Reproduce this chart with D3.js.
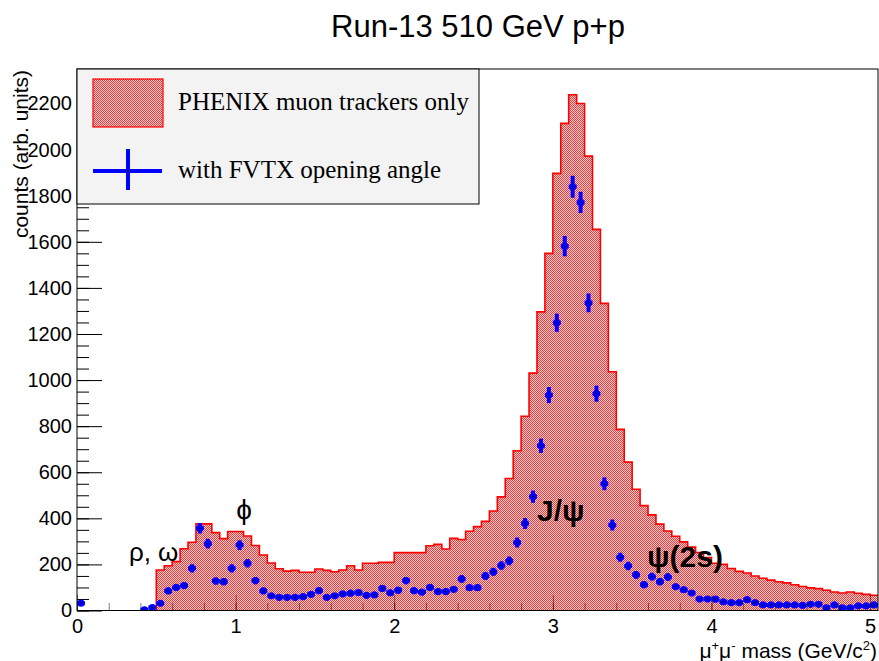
<!DOCTYPE html>
<html>
<head>
<meta charset="utf-8">
<script src="https://cdn.jsdelivr.net/npm/d3@7"></script>
<style>
  body { margin: 0; background: #fff; }
  text { fill: #000; }
</style>
</head>
<body>
<svg id="chart" width="879" height="661"></svg>
<script>
// Dimuon invariant mass, 0.05 GeV/c^2 bins starting at 0
const binWidth = 0.05;
const nBins = 101;

// PHENIX muon trackers only (filled histogram), counts per bin
const muonOnly = [
  0, 0, 0, 0, 0, 0, 0, 0, 0, 0,
  176, 194, 212, 268, 296, 376, 376, 338, 312, 343,
  343, 323, 282, 241, 206, 181, 171, 174, 166, 166,
  180, 174, 168, 176, 194, 176, 205, 205, 209, 209,
  251, 251, 251, 251, 281, 287, 267, 313, 308, 344,
  364, 387, 432, 493, 573, 693, 843, 1030, 1296, 1550,
  1897, 2114, 2238, 2200, 1972, 1654, 1333, 1036, 786, 644,
  526, 455, 415, 375, 345, 322, 298, 275, 252, 230,
  205, 200, 182, 170, 163, 150, 140, 132, 125, 120,
  112, 104, 98, 95, 88, 80, 76, 80, 75, 70, 66
];

// With FVTX opening angle cut (points with Poisson errors); null = empty bin
const withFvtx = [
  32, null, null, null, null, null, null, null, 3, 13,
  31, 85, 100, 108, 183, 357, 290, 128, 125, 183,
  284, 205, 130, 85, 64, 57, 57, 57, 60, 70,
  86, 57, 64, 72, 75, 78, 66, 68, 96, 77,
  88, 130, 86, 80, 100, 82, 82, 92, 137, 99,
  99, 150, 168, 195, 215, 295, 378, 494, 715, 935,
  1249, 1581, 1839, 1771, 1335, 941, 550, 371, 231, 193,
  155, 112, 147, 125, 145, 103, 90, 76, 50, 50,
  49, 38, 34, 34, 47, 34, 24, 24, 24, 24,
  24, 22, 27, 27, 12, 24, 12, 12, 20, 20, 24
];

const xTicks = [0, 1, 2, 3, 4, 5];
const yTicks = [0, 200, 400, 600, 800, 1000, 1200, 1400, 1600, 1800, 2000, 2200];

const titleText = "Run-13 510 GeV p+p";
const legendLabels = ["PHENIX muon trackers only", "with FVTX opening angle"];

const svg = d3.select("#chart");
const frame = { left: 77, right: 878, top: 69, bottom: 610.5 };
const sans = "'Liberation Sans', Arial, 'DejaVu Sans', sans-serif";
const serif = "'Liberation Serif', 'Times New Roman', serif";

const x = d3.scaleLinear().domain([0, nBins * binWidth]).range([frame.left, frame.right]);
const y = d3.scaleLinear().domain([0, 2350]).range([frame.bottom, frame.top]);

const bins = d3.range(nBins).map(i => ({
  lo: i * binWidth,
  hi: (i + 1) * binWidth,
  red: muonOnly[i],
  blue: withFvtx[i]
}));

// fine checkered red fill
const defs = svg.append("defs");
const pat = defs.append("pattern")
  .attr("id", "redDots").attr("patternUnits", "userSpaceOnUse")
  .attr("width", 2).attr("height", 2);
pat.append("rect").attr("x", 0).attr("y", 0).attr("width", 2).attr("height", 2).attr("fill", "#ffd0d0");
pat.append("rect").attr("x", 0).attr("y", 0).attr("width", 1).attr("height", 1)
  .attr("fill", "#ee3a3a").attr("shape-rendering", "crispEdges");
pat.append("rect").attr("x", 1).attr("y", 1).attr("width", 1).attr("height", 1)
  .attr("fill", "#ee3a3a").attr("shape-rendering", "crispEdges");

defs.append("clipPath").attr("id", "plotClip")
  .append("rect")
  .attr("x", frame.left).attr("y", frame.top)
  .attr("width", frame.right - frame.left).attr("height", frame.bottom - frame.top);

// ---- axes (drawn first, the fill lies over the ticks)
const yMinor = d3.range(0, 2351, 50);
const xMinor = d3.range(0, 5.05, 0.2);

function styleAxis(g) {
  g.selectAll(".domain").remove();
  g.selectAll(".tick line").attr("stroke", "#000").attr("stroke-width", 1);
  g.selectAll("text").attr("font-family", sans).attr("font-size", 20).attr("fill", "#000");
}

svg.append("g").attr("transform", `translate(${frame.left},0)`)
  .call(d3.axisLeft(y).tickValues(yMinor).tickSize(-12).tickFormat(""))
  .call(styleAxis);
svg.append("g").attr("transform", `translate(${frame.left},0)`)
  .call(d3.axisLeft(y).tickValues(yTicks).tickSize(-25).tickPadding(5).tickFormat(d3.format("d")))
  .call(styleAxis);

// ---- filled histogram
const plot = svg.append("g").attr("clip-path", "url(#plotClip)");
const filled = bins.filter(b => b.red > 0);
const stepPts = filled.map(b => [b.lo, b.red]);
stepPts.push([filled[filled.length - 1].hi, filled[filled.length - 1].red]);

plot.append("path")
  .datum(stepPts)
  .attr("fill", "url(#redDots)")
  .attr("d", d3.area().curve(d3.curveStepAfter)
    .x(d => x(d[0])).y0(y(0)).y1(d => y(d[1])));

plot.append("path")
  .datum([[filled[0].lo, 0], ...stepPts])
  .attr("fill", "none").attr("stroke", "#ff0000").attr("stroke-width", 1.6)
  .attr("d", d3.line().curve(d3.curveStepAfter).x(d => x(d[0])).y(d => y(d[1])));

// x ticks sit on top of the fill, drawn dotted
function styleXAxis(g) {
  styleAxis(g);
  g.selectAll(".tick line").attr("stroke-dasharray", "1,1");
}
svg.append("g").attr("transform", `translate(0,${frame.bottom})`)
  .call(d3.axisBottom(x).tickValues(xMinor).tickSize(-8).tickFormat(""))
  .call(styleXAxis);
svg.append("g").attr("transform", `translate(0,${frame.bottom})`)
  .call(d3.axisBottom(x).tickValues(xTicks).tickSize(-16).tickPadding(8).tickFormat(d3.format("d")))
  .call(styleXAxis);

// ---- points with error bars
const pts = plot.append("g").selectAll("g")
  .data(bins.filter(b => b.blue !== null))
  .join("g");
pts.append("line")
  .attr("x1", d => x(d.lo)).attr("x2", d => x(d.hi))
  .attr("y1", d => y(d.blue)).attr("y2", d => y(d.blue))
  .attr("stroke", "#0000ff").attr("stroke-width", 4);
pts.append("line")
  .attr("x1", d => x((d.lo + d.hi) / 2)).attr("x2", d => x((d.lo + d.hi) / 2))
  .attr("y1", d => y(d.blue - Math.sqrt(d.blue)) + 1).attr("y2", d => y(d.blue + Math.sqrt(d.blue)) - 1)
  .attr("stroke", "#0000ff").attr("stroke-width", 4);
pts.append("circle")
  .attr("cx", d => x((d.lo + d.hi) / 2)).attr("cy", d => y(d.blue))
  .attr("r", 3.6).attr("fill", "#0000ff");
pts.append("circle")
  .attr("cx", d => x((d.lo + d.hi) / 2)).attr("cy", d => y(d.blue))
  .attr("r", 0.8).attr("fill", "#000");

// ---- frame
svg.append("rect")
  .attr("x", frame.left).attr("y", frame.top)
  .attr("width", frame.right - frame.left).attr("height", frame.bottom - frame.top)
  .attr("fill", "none").attr("stroke", "#000").attr("stroke-width", 1);

// ---- peak labels
svg.append("text").attr("x", 129).attr("y", 561)
  .attr("font-family", sans).attr("font-size", 26)
  .text("ρ,")
  .append("tspan").attr("x", 158).text("ω");
svg.append("text").attr("x", 244).attr("y", 519).attr("text-anchor", "middle")
  .attr("font-family", sans).attr("font-size", 28).text("ϕ");
svg.append("text").attr("x", 537).attr("y", 521)
  .attr("font-family", sans).attr("font-size", 30).attr("font-weight", "bold").text("J/ψ");
svg.append("text").attr("x", 647).attr("y", 567)
  .attr("font-family", sans).attr("font-size", 30).attr("font-weight", "bold").text("ψ(2s)");

// ---- legend
const leg = svg.append("g");
leg.append("rect").attr("x", frame.left).attr("y", frame.top)
  .attr("width", 402).attr("height", 135)
  .attr("fill", "#f3f3f3").attr("stroke", "#000").attr("stroke-width", 1);
leg.append("rect").attr("x", 93).attr("y", 79).attr("width", 70).attr("height", 48)
  .attr("fill", "url(#redDots)").attr("stroke", "#ff0000").attr("stroke-width", 1.2);
leg.append("line").attr("x1", 93).attr("x2", 162).attr("y1", 171).attr("y2", 171)
  .attr("stroke", "#0000ff").attr("stroke-width", 4);
leg.append("line").attr("x1", 128).attr("x2", 128).attr("y1", 149).attr("y2", 190)
  .attr("stroke", "#0000ff").attr("stroke-width", 4);
leg.append("circle").attr("cx", 128).attr("cy", 171).attr("r", 0.8).attr("fill", "#000");
leg.selectAll("text.lab").data(legendLabels).join("text").attr("class", "lab")
  .attr("x", 178).attr("y", (d, i) => i === 0 ? 110 : 178)
  .attr("font-family", serif).attr("font-size", 25)
  .text(d => d);

// ---- titles
svg.append("text").attr("x", 478).attr("y", 37).attr("text-anchor", "middle")
  .attr("font-family", sans).attr("font-size", 31).text(titleText);

svg.append("text")
  .attr("transform", `translate(28,${frame.top + 1}) rotate(-90)`)
  .attr("text-anchor", "end")
  .attr("font-family", sans).attr("font-size", 21)
  .text("counts (arb. units)");

const xt = svg.append("text").attr("x", 877).attr("y", 658).attr("text-anchor", "end")
  .attr("font-family", sans).attr("font-size", 21);
xt.append("tspan").text("μ");
xt.append("tspan").attr("dy", -8).attr("font-size", 13).text("+");
xt.append("tspan").attr("dy", 8).text("μ");
xt.append("tspan").attr("dy", -8).attr("font-size", 13).text("-");
xt.append("tspan").attr("dy", 8).text(" mass (GeV/c");
xt.append("tspan").attr("dy", -8).attr("font-size", 13).text("2");
xt.append("tspan").attr("dy", 8).text(")");
</script>
</body>
</html>
